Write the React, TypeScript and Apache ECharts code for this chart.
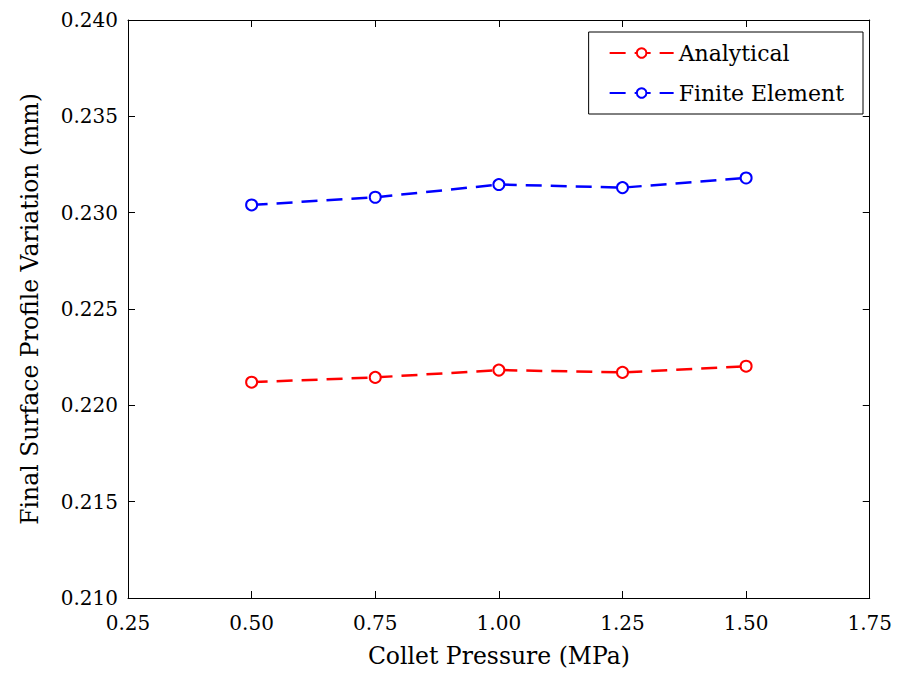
import React, { useEffect, useRef } from "react";
import * as echarts from "echarts";

const pressures = [0.5, 0.75, 1.0, 1.25, 1.5];
const analytical = [0.2212, 0.22145, 0.22183, 0.22171, 0.22203];
const finiteElement = [0.2304, 0.2308, 0.23146, 0.2313, 0.2318];
const xTicks = ["0.25", "0.50", "0.75", "1.00", "1.25", "1.50", "1.75"];
const yTicks = ["0.210", "0.215", "0.220", "0.225", "0.230", "0.235", "0.240"];

const FONT = "DejaVu Serif";

export default function App() {
  const ref = useRef<HTMLDivElement>(null);
  useEffect(() => {
    if (!ref.current) return;
    const chart = echarts.init(ref.current, undefined, { renderer: "svg" });
    const mk = (name: string, ys: number[], color: string) => ({
      name,
      type: "line",
      data: pressures.map((x, i) => [x, ys[i]]),
      symbol: "emptyCircle",
      symbolSize: 11,
      showSymbol: true,
      lineStyle: { color, width: 2.5, type: [16, 9] },
      itemStyle: { color, borderColor: color, borderWidth: 1.8 },
      emphasis: { disabled: true },
    });
    const axisCommon = {
      axisLine: { show: true, onZero: false, lineStyle: { color: "#000", width: 1 } },
      axisTick: { show: true, inside: true, length: 7, lineStyle: { color: "#000" } },
      splitLine: { show: false },
    };
    chart.setOption({
      animation: false,
      backgroundColor: "#fff",
      grid: { left: 120, right: 22, top: 12, bottom: 67, containLabel: false },
      legend: {
        show: true,
        right: 32,
        top: 24,
        orient: "vertical",
        backgroundColor: "#fff",
        borderColor: "#000",
        borderWidth: 1,
        borderRadius: 0,
        padding: [10, 19, 10, 20],
        itemGap: 18,
        itemWidth: 64,
        itemHeight: 12,
        textStyle: { fontFamily: FONT, fontSize: 22, color: "#000" },
        data: ["Analytical", "Finite Element"],
      },
      xAxis: [
        {
          type: "value",
          min: 0.25,
          max: 1.75,
          interval: 0.25,
          name: "Collet Pressure (MPa)",
          nameLocation: "middle",
          nameGap: 46,
          nameTextStyle: { fontFamily: FONT, fontSize: 23.5, color: "#000" },
          axisLabel: {
            color: "#000",
            fontFamily: FONT,
            fontSize: 20,
            margin: 15,
            formatter: (v: number) => xTicks[Math.round((v - 0.25) / 0.25)] ?? "",
          },
          ...axisCommon,
        },
        {
          type: "value",
          position: "top",
          min: 0.25,
          max: 1.75,
          interval: 0.25,
          axisLabel: { show: false },
          ...axisCommon,
        },
      ],
      yAxis: [
        {
          type: "value",
          min: 0.21,
          max: 0.24,
          interval: 0.005,
          name: "Final Surface Profile Variation (mm)",
          nameLocation: "middle",
          nameGap: 86,
          nameTextStyle: { fontFamily: FONT, fontSize: 23.5, color: "#000" },
          axisLabel: {
            color: "#000",
            fontFamily: FONT,
            fontSize: 20,
            margin: 10,
            formatter: (v: number) => yTicks[Math.round((v - 0.21) / 0.005)] ?? "",
          },
          ...axisCommon,
        },
        {
          type: "value",
          position: "right",
          min: 0.21,
          max: 0.24,
          interval: 0.005,
          axisLabel: { show: false },
          ...axisCommon,
        },
      ],
      series: [
        mk("Analytical", analytical, "#ff0000"),
        mk("Finite Element", finiteElement, "#0000ff"),
      ],
    });
    return () => chart.dispose();
  }, []);
  return <div ref={ref} style={{ width: 887, height: 665 }} />;
}
